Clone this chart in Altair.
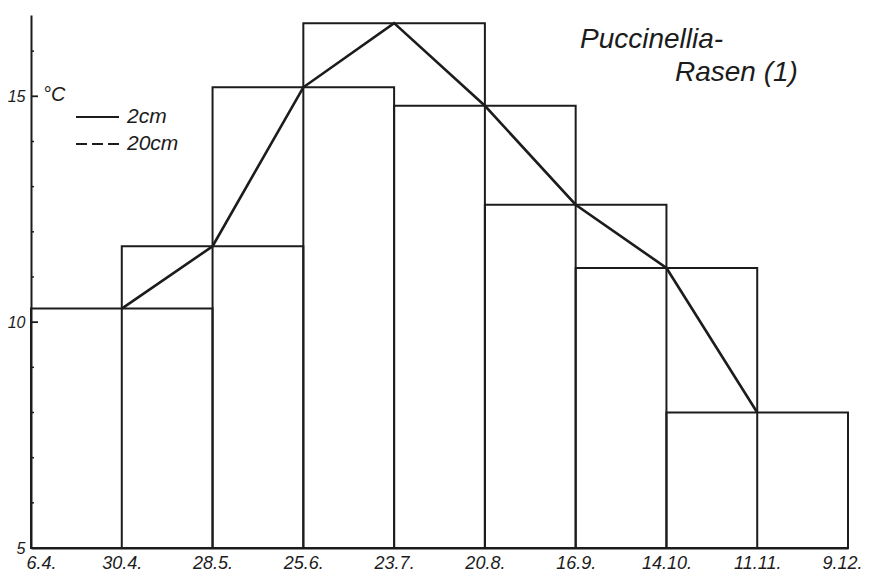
import json
import altair as alt
import pandas as pd

# ---- data ----
dates = ["6.4.", "30.4.", "28.5.", "25.6.", "23.7.", "20.8.", "16.9.", "14.10.", "11.11.", "9.12."]
# mean soil temperature at 2 cm, plotted at dates[1..8], each bar spanning the neighbouring dates
temp_2cm = [10.3, 11.68, 15.2, 16.62, 14.79, 12.6, 11.2, 8.0]
y_tick_values = [5, 6, 7, 8, 9, 10, 11, 12, 13, 14, 15, 16]
y_label_values = [5, 10, 15]
legend_depths = ["2cm", "20cm"]
title_lines = ["Puccinellia-", "Rasen (1)"]
unit_label = ["°C"]

INK = "#1c1c1c"
FONT = "Liberation Sans"

rows = []
for i, v in enumerate(temp_2cm, start=1):
    rows.append({"pos": i, "start": i - 1, "end": i + 1, "temp": v, "base": 5})
df = pd.DataFrame(rows)

ticks_df = pd.DataFrame({"t": y_tick_values})
ticks_df["major"] = ticks_df["t"].isin(y_label_values)

xscale = alt.Scale(domain=[0, len(dates) - 1], nice=False, zero=False)
yscale = alt.Scale(domain=[5, 16.8], nice=False, zero=False)

label_expr = json.dumps(dates) + "[datum.value]"
last = len(dates) - 1

xaxis = alt.Axis(
    values=list(range(len(dates))),
    labelExpr=label_expr,
    title=None,
    grid=False,
    ticks=False,
    labelPadding=6,
    labelFlush=False,
    labelFontSize=18,
    labelFontStyle="italic",
    labelFont=FONT,
    labelColor=INK,
    labelAlign={"condition": {"test": "datum.value === 0", "value": "left"}, "value": "center"},
    labelOffset={
        "condition": [
            {"test": "datum.value === 0", "value": -5},
            {"test": "datum.value === %d" % last, "value": -6},
        ],
        "value": 0,
    },
    domainColor=INK,
    domainWidth=2,
)
yaxis = alt.Axis(
    values=y_label_values,
    title=None,
    grid=False,
    ticks=False,
    labelPadding=6,
    labelFontSize=16,
    labelFontStyle="italic",
    labelFont=FONT,
    labelColor=INK,
    domainColor=INK,
    domainWidth=2,
)

bars = alt.Chart(df).mark_rect(fillOpacity=0, stroke=INK, strokeWidth=2).encode(
    x=alt.X("start:Q", scale=xscale, axis=xaxis),
    x2="end:Q",
    y=alt.Y("temp:Q", scale=yscale, axis=yaxis),
    y2="base:Q",
)

line = alt.Chart(df).mark_line(color=INK, strokeWidth=2.6).encode(
    x=alt.X("pos:Q", scale=xscale, axis=xaxis),
    y=alt.Y("temp:Q", scale=yscale, axis=yaxis),
)

minor_ticks = alt.Chart(ticks_df).transform_filter("!datum.major").mark_rule(
    color=INK, strokeWidth=1.5
).encode(
    y=alt.Y("t:Q", scale=yscale, axis=yaxis),
    x=alt.value(0),
    x2=alt.value(3),
)
major_ticks = alt.Chart(ticks_df).transform_filter("datum.major").mark_rule(
    color=INK, strokeWidth=1.8
).encode(
    y=alt.Y("t:Q", scale=yscale, axis=yaxis),
    x=alt.value(0),
    x2=alt.value(7),
)

# legend (drawn by hand, as in the original figure)
leg_solid = alt.Chart(pd.DataFrame({"d": legend_depths[:1]})).mark_rule(
    color=INK, strokeWidth=2
).encode(x=alt.value(45), x2=alt.value(88), y=alt.value(102))
leg_dash = alt.Chart(pd.DataFrame({"d": legend_depths[1:]})).mark_rule(
    color=INK, strokeWidth=2, strokeDash=[11, 5]
).encode(x=alt.value(45), x2=alt.value(88), y=alt.value(129))
leg_txt1 = alt.Chart(pd.DataFrame({"d": legend_depths[:1]})).mark_text(
    align="left", baseline="alphabetic", font=FONT, fontSize=21, fontStyle="italic", color=INK
).encode(x=alt.value(96), y=alt.value(108), text="d:N")
leg_txt2 = alt.Chart(pd.DataFrame({"d": legend_depths[1:]})).mark_text(
    align="left", baseline="alphabetic", font=FONT, fontSize=21, fontStyle="italic", color=INK
).encode(x=alt.value(96), y=alt.value(135), text="d:N")

title1 = alt.Chart(pd.DataFrame({"t": title_lines[:1]})).mark_text(
    align="left", baseline="alphabetic", font=FONT, fontSize=28, fontStyle="italic", color=INK
).encode(x=alt.value(549), y=alt.value(33), text="t:N")
title2 = alt.Chart(pd.DataFrame({"t": title_lines[1:]})).mark_text(
    align="left", baseline="alphabetic", font=FONT, fontSize=28, fontStyle="italic", color=INK
).encode(x=alt.value(644), y=alt.value(66), text="t:N")
unit = alt.Chart(pd.DataFrame({"t": unit_label})).mark_text(
    align="left", baseline="middle", font=FONT, fontSize=20, fontStyle="italic", color=INK
).encode(x=alt.value(12), y=alt.value(80), text="t:N")

chart = (
    alt.layer(
        bars, line, minor_ticks, major_ticks,
        leg_solid, leg_dash, leg_txt1, leg_txt2,
        title1, title2, unit,
    )
    .properties(
        width=817,
        height=533,
        autosize=alt.AutoSizeParams(type="none"),
        padding={"left": 23, "top": 7, "right": 14, "bottom": 24},
        background="white",
    )
    .configure_view(stroke=None)
)

chart.save("out.html", embed_options={"renderer": "svg", "actions": False})
